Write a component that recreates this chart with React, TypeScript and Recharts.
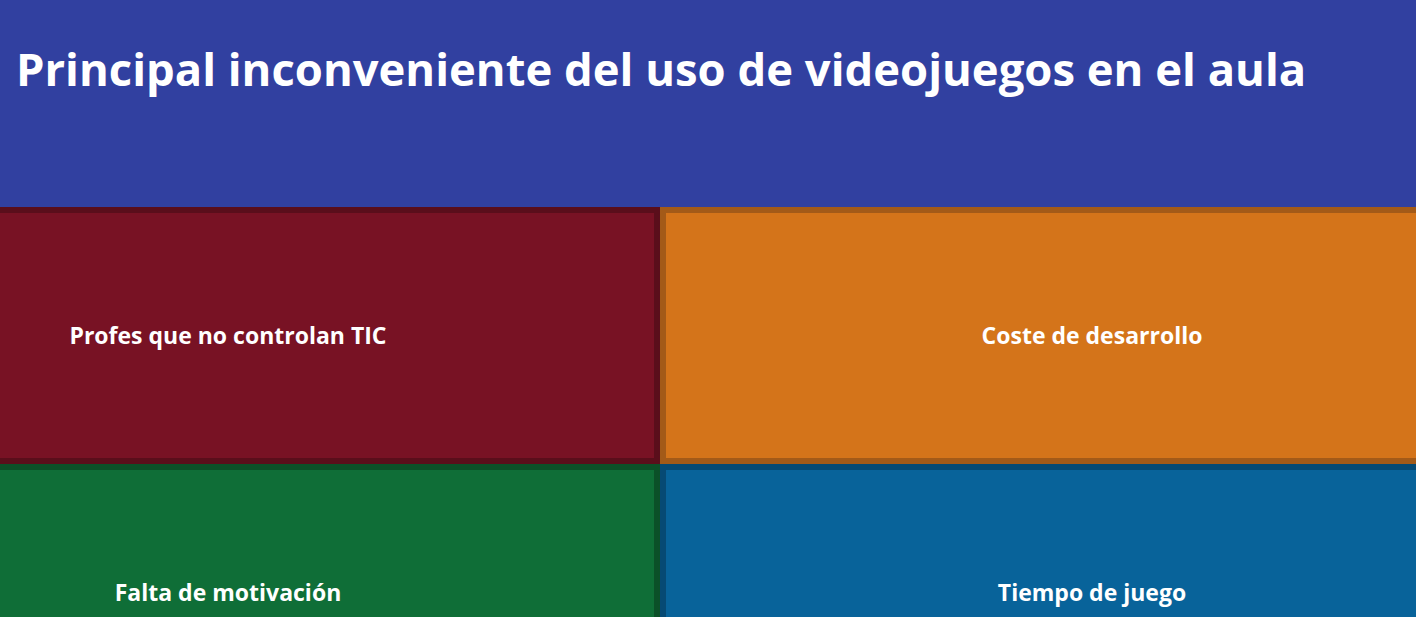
import { Treemap } from "recharts";

const NAMES = ["Profes que no controlan TIC", "Falta de motivación", "Coste de desarrollo", "Tiempo de juego"];
const VALUES = [25, 25, 25, 25];

const FILLS = ["#781224", "#0f6e37", "#d4741a", "#08639a"];
const BORDERS = ["#5a0e1b", "#0b5028", "#a35a18", "#064a74"];

const data = NAMES.map((name, i) => ({ name, value: VALUES[i] }));

const FONT = "'Open Sans', sans-serif";

function TreeCell(props: any) {
    const { x, y, width, height, depth, index, name } = props;
    if (depth !== 1) return null;
    return (
        <g>
            <rect x={x} y={y} width={width} height={height} fill={BORDERS[index]} />
            <rect x={x + 6} y={y + 6} width={width - 12} height={height - 12} fill={FILLS[index]} />
            <text
                x={x + width / 2}
                y={y + height / 2 + 8}
                textAnchor="middle"
                fill="#ffffff"
                stroke="none"
                fontFamily={FONT}
                fontWeight={700}
                fontSize={23}
            >
                {name}
            </text>
        </g>
    );
}

export default function App() {
    return (
        <div
            style={{
                position: "fixed",
                left: 0,
                top: 0,
                width: 1416,
                height: 617,
                overflow: "hidden",
                background: "#3140a0",
            }}
        >
            <svg width={1416} height={207} style={{ position: "absolute", left: 0, top: 0 }}>
                <text x={16} y={86} fill="#ffffff" fontFamily={FONT} fontWeight={700} fontSize={45.4}>
                    Principal inconveniente del uso de videojuegos en el aula
                </text>
            </svg>
            <div style={{ position: "absolute", left: -204, top: 207 }}>
                <Treemap
                    width={1728}
                    height={514}
                    data={data}
                    dataKey="value"
                    aspectRatio={2}
                    isAnimationActive={false}
                    content={<TreeCell />}
                />
            </div>
        </div>
    );
}
